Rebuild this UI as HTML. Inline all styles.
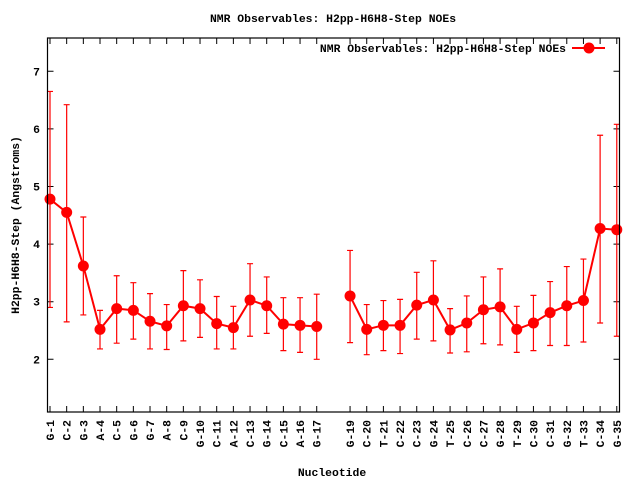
<!DOCTYPE html>
<html><head><style>body{margin:0;background:#fff}svg{display:block}text{font-family:"Liberation Mono",monospace;font-weight:bold;font-size:11.4px;fill:#000}</style></head><body>
<svg id="s" width="640" height="480" xmlns="http://www.w3.org/2000/svg"></svg>
<script>
var s=document.getElementById('s'),h='';
function Y(v){return 359.3-(v-2)*57.6}
function X(i){return 50+(i-1)*16.67}
var L=47.5,R=619.5,T=38,B=412;
h+='<text x="333" y="22" text-anchor="middle">NMR Observables: H2pp-H6H8-Step NOEs</text>';
h+='<text x="332" y="476" text-anchor="middle">Nucleotide</text>';
h+='<text transform="translate(19,225) rotate(-90)" text-anchor="middle">H2pp-H6H8-Step (Angstroms)</text>';
for(var v=2;v<=7;v++){var y=Y(v);h+='<path d="M'+L+' '+y+'h6M'+R+' '+y+'h-6" stroke="#000"/>';h+='<text x="40" y="'+(y+4)+'" text-anchor="end">'+v+'</text>';}
var names=['G-1','C-2','G-3','A-4','C-5','G-6','G-7','A-8','C-9','G-10','C-11','A-12','C-13','G-14','C-15','A-16','G-17','','G-19','C-20','T-21','C-22','C-23','G-24','T-25','C-26','C-27','G-28','T-29','C-30','C-31','G-32','T-33','C-34','G-35'];
for(var i=1;i<=35;i++){var x=X(i);if(!names[i-1])continue;h+='<path d="M'+x+' '+B+'v-6M'+x+' '+T+'v6" stroke="#000"/>';h+='<text transform="translate('+(x+4)+',420) rotate(-90)" text-anchor="end">'+names[i-1]+'</text>';}
var d=[[1,4.78,2.9,6.65],[2,4.55,2.65,6.42],[3,3.62,2.77,4.47],[4,2.52,2.18,2.85],[5,2.88,2.28,3.45],[6,2.85,2.35,3.33],[7,2.66,2.18,3.14],[8,2.58,2.17,2.95],[9,2.93,2.32,3.54],[10,2.88,2.38,3.38],[11,2.62,2.18,3.09],[12,2.55,2.18,2.92],[13,3.03,2.40,3.66],[14,2.93,2.45,3.43],[15,2.61,2.15,3.07],[16,2.59,2.12,3.07],[17,2.57,2.00,3.13],
[19,3.10,2.29,3.89],[20,2.52,2.08,2.95],[21,2.59,2.15,3.02],[22,2.59,2.10,3.04],[23,2.94,2.35,3.51],[24,3.03,2.32,3.71],[25,2.51,2.11,2.88],[26,2.63,2.13,3.10],[27,2.86,2.27,3.43],[28,2.91,2.25,3.57],[29,2.52,2.12,2.92],[30,2.63,2.15,3.11],[31,2.81,2.24,3.35],[32,2.93,2.24,3.61],[33,3.02,2.30,3.74],[34,4.27,2.63,5.89],[35,4.25,2.40,6.08]];
var p1='',p2='';
d.forEach(function(r){var x=X(r[0]);h+='<path d="M'+x+' '+Y(r[2])+'V'+Y(r[3])+'M'+(x-3)+' '+Y(r[2])+'h6M'+(x-3)+' '+Y(r[3])+'h6" stroke="#f00" stroke-width="1.2"/>';if(r[0]<18)p1+=x+','+Y(r[1])+' ';else p2+=x+','+Y(r[1])+' ';});
h+='<polyline points="'+p1+'" fill="none" stroke="#f00" stroke-width="2"/><polyline points="'+p2+'" fill="none" stroke="#f00" stroke-width="2"/>';
d.forEach(function(r){h+='<circle cx="'+X(r[0])+'" cy="'+Y(r[1])+'" r="5.5" fill="#f00"/>';});
h+='<text x="566" y="52" text-anchor="end">NMR Observables: H2pp-H6H8-Step NOEs</text><path d="M572 48H605" stroke="#f00" stroke-width="2"/><circle cx="589" cy="48" r="5.5" fill="#f00"/>';
h+='<rect x="'+L+'" y="'+T+'" width="'+(R-L)+'" height="'+(B-T)+'" fill="none" stroke="#000" stroke-width="1.2"/>';
s.innerHTML=h;
</script>
</body></html>
